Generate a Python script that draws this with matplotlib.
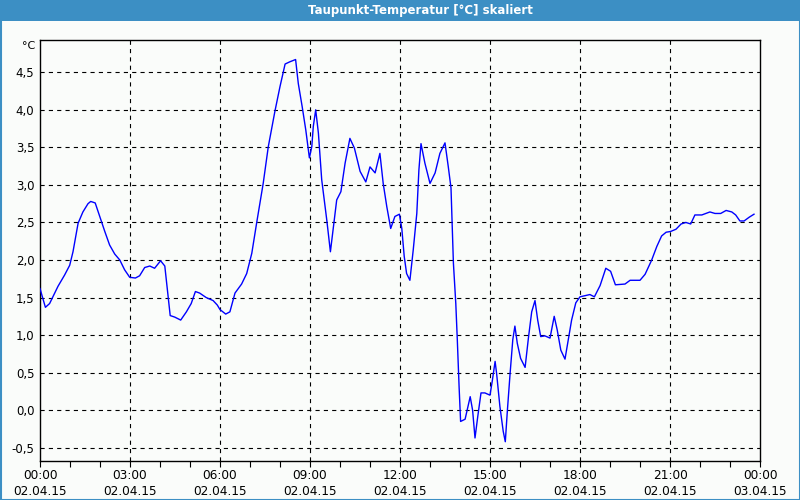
import matplotlib
matplotlib.use("Agg")
import matplotlib.pyplot as plt
from matplotlib.patches import Rectangle
from matplotlib.ticker import FixedLocator, NullFormatter

# ---- data (hours since 02.04.15 00:00, dew point °C) ----
hours = [0.00, 0.18, 0.32, 0.60, 0.82, 0.99, 1.10, 1.27, 1.43, 1.60, 1.69, 1.84,
         1.99, 2.16, 2.32, 2.49, 2.66, 2.82, 2.99, 3.18, 3.32, 3.49, 3.66, 3.82,
         4.02, 4.16, 4.27, 4.34, 4.49, 4.69, 4.88, 5.04, 5.18, 5.32, 5.54, 5.77,
         5.91, 6.00, 6.19, 6.33, 6.50, 6.72, 6.89, 7.06, 7.22, 7.44, 7.61, 7.83,
         8.00, 8.17, 8.33, 8.52, 8.61, 8.74, 8.86, 8.98, 9.06, 9.11, 9.19, 9.28,
         9.39, 9.56, 9.68, 9.78, 9.89, 10.03, 10.17, 10.33, 10.48, 10.67, 10.86,
         11.00, 11.17, 11.33, 11.44, 11.56, 11.69, 11.83, 11.98, 12.06, 12.14,
         12.22, 12.33, 12.44, 12.56, 12.63, 12.70, 12.83, 13.00, 13.17, 13.33,
         13.50, 13.61, 13.70, 13.78, 13.86, 13.91, 13.97, 14.02, 14.17, 14.34,
         14.42, 14.50, 14.59, 14.70, 14.83, 15.00, 15.08, 15.17, 15.22, 15.33,
         15.44, 15.51, 15.58, 15.67, 15.76, 15.83, 15.91, 16.02, 16.17, 16.28,
         16.39, 16.50, 16.59, 16.69, 16.83, 17.00, 17.14, 17.24, 17.36, 17.50,
         17.61, 17.72, 17.86, 18.00, 18.33, 18.48, 18.67, 18.86, 19.02, 19.18,
         19.50, 19.67, 20.00, 20.17, 20.39, 20.56, 20.72, 20.87, 21.02, 21.20,
         21.37, 21.53, 21.69, 21.83, 22.06, 22.33, 22.50, 22.69, 22.87, 23.06,
         23.19, 23.33, 23.47, 23.64, 23.80]
dewpoint = [1.62, 1.37, 1.42, 1.65, 1.80, 1.93, 2.11, 2.49, 2.64, 2.75, 2.78, 2.76,
            2.58, 2.38, 2.20, 2.08, 2.00, 1.87, 1.77, 1.76, 1.79, 1.90, 1.92, 1.89,
            1.99, 1.92, 1.51, 1.26, 1.24, 1.20, 1.31, 1.42, 1.58, 1.56, 1.50, 1.46,
            1.40, 1.34, 1.28, 1.31, 1.56, 1.68, 1.82, 2.09, 2.49, 3.02, 3.51, 3.98,
            4.31, 4.61, 4.64, 4.67, 4.35, 4.04, 3.73, 3.36, 3.51, 3.78, 4.00, 3.69,
            3.07, 2.53, 2.11, 2.44, 2.80, 2.91, 3.29, 3.62, 3.49, 3.18, 3.04,
            3.24, 3.16, 3.42, 3.02, 2.71, 2.42, 2.58, 2.61, 2.42, 2.05,
            1.82, 1.73, 2.13, 2.62, 3.20, 3.55, 3.29, 3.02, 3.16, 3.42,
            3.56, 3.24, 2.96, 1.96, 1.42, 0.94, 0.31, -0.15, -0.12, 0.18,
            0.00, -0.37, -0.09, 0.23, 0.23, 0.20, 0.40, 0.65, 0.49, 0.05,
            -0.28, -0.42, 0.00, 0.49, 0.94, 1.12, 0.89, 0.69, 0.57, 0.96,
            1.31, 1.46, 1.20, 0.98, 0.99, 0.96, 1.25, 1.07, 0.80, 0.68,
            0.94, 1.20, 1.43, 1.51, 1.54, 1.51, 1.66, 1.89, 1.85, 1.67,
            1.68, 1.73, 1.73, 1.81, 2.00, 2.18, 2.32, 2.37, 2.38, 2.41,
            2.48, 2.50, 2.48, 2.60, 2.60, 2.64, 2.62, 2.62, 2.66, 2.64,
            2.60, 2.52, 2.52, 2.57, 2.61]

title = "Taupunkt-Temperatur [°C] skaliert"
unit = "°C"
y_ticks = [-0.5, 0.0, 0.5, 1.0, 1.5, 2.0, 2.5, 3.0, 3.5, 4.0, 4.5]
x_major = [0, 3, 6, 9, 12, 15, 18, 21, 24]
x_labels = ["00:00\n02.04.15", "03:00\n02.04.15", "06:00\n02.04.15",
            "09:00\n02.04.15", "12:00\n02.04.15", "15:00\n02.04.15",
            "18:00\n02.04.15", "21:00\n02.04.15", "00:00\n03.04.15"]

plt.rcParams['font.family'] = ['DejaVu Sans']
plt.rcParams['lines.scale_dashes'] = False

BG = '#fafcfa'
BAR = '#3c8fc4'

fig = plt.figure(figsize=(8, 5), dpi=100, facecolor=BG)

# title bar and border
fig.patches.append(Rectangle((0, 1 - 21 / 500), 1, 21 / 500, transform=fig.transFigure,
                             facecolor=BAR, edgecolor='none', zorder=0))
fig.patches.append(Rectangle((0.5 / 800, 0.5 / 500), 1 - 1 / 800, 1 - 1 / 500,
                             transform=fig.transFigure, facecolor='none',
                             edgecolor=BAR, linewidth=1.5, zorder=1))
fig.text(420 / 800, 1 - 10.5 / 500, title, color='white', fontsize=8.5,
         fontweight='bold', ha='center', va='center')

ax = fig.add_axes([40 / 800, 39.5 / 500, 720 / 800, 420.5 / 500])
ax.set_facecolor(BG)
ax.plot(hours, dewpoint, color='#0000ff', linewidth=1.0, zorder=3)

ax.set_xlim(0, 24)
ax.set_ylim(-0.67, 4.93)

ax.set_yticks(y_ticks)
ax.set_yticklabels([f"{v:.1f}".replace('.', ',') for v in y_ticks])
ax.tick_params(axis='y', length=0, pad=4, labelsize=8.5, colors='black')

ax.xaxis.set_major_locator(FixedLocator(x_major))
ax.set_xticklabels(x_labels)
ax.xaxis.set_minor_locator(FixedLocator(list(range(0, 25))))
ax.xaxis.set_minor_formatter(NullFormatter())
ax.tick_params(axis='x', which='both', direction='out', length=4, width=0.8,
               pad=2, labelsize=8.7)

# dashed grid
for y in y_ticks:
    ax.axhline(y, color='black', linewidth=0.8, dashes=(3, 3), zorder=1)
for x in x_major[1:-1]:
    ax.axvline(x, color='black', linewidth=0.8, dashes=(3, 3), zorder=1)

for s in ax.spines.values():
    s.set_linewidth(1.0)
    s.set_color('black')

fig.text(29 / 800, 1 - 46 / 500, unit, fontsize=8, ha='center', va='center')

for lab in ax.get_xticklabels():
    lab.set_linespacing(1.3)

fig.savefig('out.png', dpi=100, facecolor=BG)
